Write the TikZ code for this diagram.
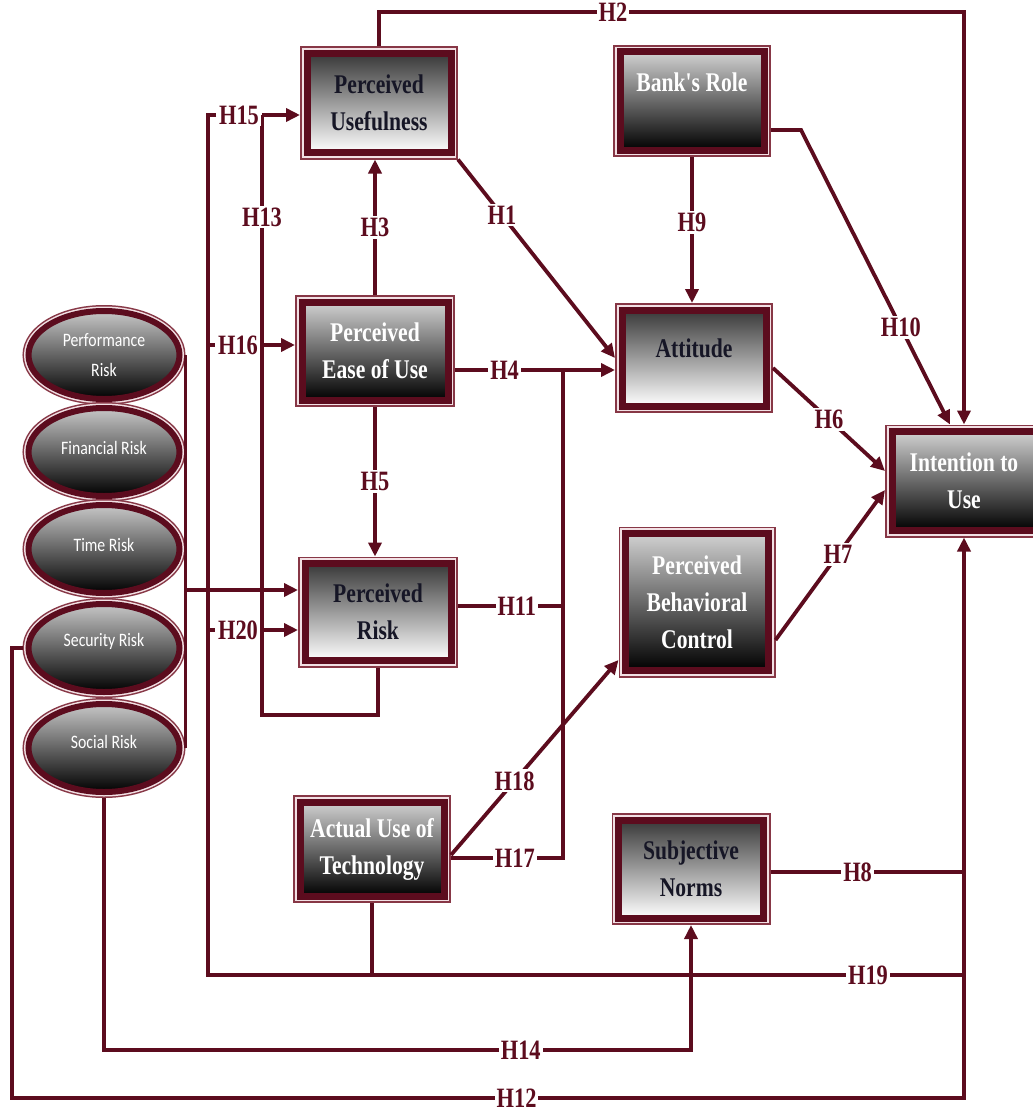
\documentclass[tikz,border=0pt]{standalone}
\usepackage{fontspec}
\usetikzlibrary{arrows.meta,shapes.geometric}
\newfontfamily\boxfont[FakeStretch=0.8]{Liberation Serif}
\newfontfamily\ellfont[FakeStretch=0.83]{Carlito}
\definecolor{wine}{RGB}{92,12,30}
\definecolor{wineedge}{RGB}{135,55,70}
\definecolor{winegap}{RGB}{242,224,228}
\definecolor{inkdark}{RGB}{22,22,38}

\tikzset{
  frame/.style={draw=wine, line width=7pt, outer sep=7pt, inner sep=2pt, align=center,
    preaction={draw=wineedge, line width=14pt},
    preaction={draw=winegap, line width=10.5pt},
    font=\boxfont\bfseries\fontsize{27}{37}\selectfont},
  darkbox/.style={frame, top color=black!78, bottom color=white, text=inkdark},
  lightbox/.style={frame, top color=black!18, bottom color=black, text=white},
  riskell/.style={ellipse, draw=wine, line width=6pt, outer sep=6pt, inner sep=0pt,
    preaction={draw=wineedge, line width=12pt},
    preaction={draw=winegap, line width=9pt},
    top color=black!22, bottom color=black, text=white,
    minimum width=151pt, minimum height=88pt, align=center,
    font=\ellfont\fontsize{19}{30}\selectfont},
  conn/.style={draw=wine, line width=3.8pt},
  arr/.style={-{Triangle[length=14pt,width=13pt]}},
  lbl/.style={fill=white, text=wine, inner sep=2pt,
    font=\boxfont\bfseries\fontsize{28}{28}\selectfont},
}

\begin{document}
\begin{tikzpicture}[x=1pt,y=-1pt]
\path[use as bounding box, fill=white] (0,0) rectangle (1033,1116);

% constructs
\node[darkbox,  minimum width=144pt, minimum height=99pt]  (pu)  at (379,103) {Perceived\\Usefulness};
\node[lightbox, minimum width=144pt, minimum height=98pt]  (br)  at (692,101) {Bank's Role\\\mbox{}};
\node[lightbox, minimum width=146pt, minimum height=98pt]  (pe)  at (375,351) {Perceived\\Ease of Use};
\node[darkbox,  minimum width=144pt, minimum height=96pt]  (at)  at (694,358) {\raisebox{20pt}{Attitude}};
\node[lightbox, minimum width=144pt, minimum height=99pt]  (iu)  at (964,481) {Intention to\\Use};
\node[darkbox,  minimum width=146pt, minimum height=97pt]  (pr)  at (378,612) {Perceived\\Risk};
\node[lightbox, minimum width=143pt, minimum height=137pt] (pbc) at (697,602) {Perceived\\Behavioral\\Control};
\node[lightbox, minimum width=144pt, minimum height=94pt]  (aut) at (372,849) {Actual Use of\\Technology};
\node[darkbox,  minimum width=145pt, minimum height=98pt]  (sn)  at (691,869) {Subjective\\Norms};

% risk dimensions
\node[riskell] (perf) at (104,355) {Performance\\Risk};
\node[riskell] (fin)  at (104,452) {\raisebox{9pt}{Financial Risk}};
\node[riskell] (time) at (104,549) {\raisebox{9pt}{Time Risk}};
\node[riskell] (sec)  at (104,648) {\raisebox{16pt}{Security Risk}};
\node[riskell] (soc)  at (104,748) {\raisebox{12pt}{Social Risk}};

% lanes
\coordinate (h2)   at (964,12);
\coordinate (lane) at (563,858);
\coordinate (l12b) at (12,1098);
\coordinate (l19)  at (208,975);
\coordinate (t15)  at (208,115);
\coordinate (t16)  at (208,345);
\coordinate (t20)  at (208,630);
\coordinate (l14)  at (104,1050);
\coordinate (rb)   at (186,590);
\coordinate (c15)  at (262,115);
\coordinate (c16)  at (262,345);
\coordinate (c20)  at (262,630);
\coordinate (c13)  at (262,715);
\coordinate (br10) at ([yshift=-29pt]br.east);
\coordinate (pe4)  at ([yshift=-19pt]pe.east);
\coordinate (pr11) at ([yshift=6pt]pr.east);
\coordinate (aut17) at ([yshift=-9pt]aut.east);
\coordinate (sn8)  at ([yshift=-3pt]sn.east);

% H2
\draw[conn,arr] (pu.north) |- node[lbl,pos=0.70]{H2} (h2) -- (iu.north);
% H1
\draw[conn,arr] (pu.south east) -- node[lbl,pos=0.28]{H1} (at.west);
% H3
\draw[conn,arr] (pe.north) -- node[lbl]{H3} (pe.north |- pu.south);
% H9
\draw[conn,arr] (br.south) -- node[lbl,pos=0.45]{H9} (br.south |- at.north);
% H10
\draw[conn,arr] (br10) -- ++(30,0) -- node[lbl,pos=0.67]{H10} ([xshift=-14pt]iu.north);
% H4
\draw[conn,arr] (pe4) -- node[lbl,pos=0.31]{H4} (pe4 -| at.west);
% H6
\draw[conn,arr] ([yshift=-10pt]at.east) -- node[lbl,pos=0.5]{H6} ([yshift=10pt]iu.west);
% H7
\draw[conn,arr] ([yshift=-38pt]pbc.east) -- node[lbl,pos=0.57]{H7} ([yshift=-9pt]iu.west);
% H5
\draw[conn,arr] (pe.south) -- node[lbl]{H5} (pe.south |- pr.north);
% H11
\draw[conn] (pr11) -- node[lbl,pos=0.56]{H11} (pr11 -| lane);
% H17
\draw[conn] (aut17) -- node[lbl,pos=0.57]{H17} (aut17 -| lane) -- (lane |- pe4);
% H18
\draw[conn,arr] ([yshift=-6pt]aut.east) -- node[lbl,pos=0.38]{H18} ([yshift=-58pt]pbc.west);
% H8
\draw[conn] (sn8) -- node[lbl,pos=0.45]{H8} (sn8 -| iu.south);
% H12
\draw[conn,arr] (sec.west) -- (sec.west -| l12b) -- (l12b) -- node[lbl,pos=0.53]{H12} (l12b -| iu.south) -- (iu.south);
% H19
\draw[conn] ([xshift=8pt]t15) -- (t15) -- (l19) -- node[lbl,pos=0.873]{H19} (l19 -| iu.south);
\draw[conn] (aut.south) -- (aut.south |- l19);
% H14
\draw[conn,arr] (soc.south) -- (l14) -- node[lbl,pos=0.71]{H14} (l14 -| sn.south) -- (sn.south);
% risk dimensions into perceived risk
\draw[conn] (perf.east) -- (soc.east);
\draw[conn,arr] (rb) -- (rb -| pr.west);
% H13 and the feeds of H15, H16, H20
\draw[conn] (pr.south) -- (pr.south |- c13) -- (c13) -- node[lbl,pos=0.83]{H13} (c15);
\draw[conn,arr] (c15) -- (c15 -| pu.west);
\draw[conn,arr] (c16) -- (c16 -| pe.west);
\draw[conn,arr] (c20) -- (c20 -| pr.west);
\draw[conn] (t16) -- ++(7,0);
\draw[conn] (t20) -- ++(7,0);
\node[lbl] (h15) at (239,115) {H15};
\node[lbl] (h16) at (238,345) {H16};
\node[lbl] (h20) at (238,630) {H20};
\end{tikzpicture}
\end{document}
